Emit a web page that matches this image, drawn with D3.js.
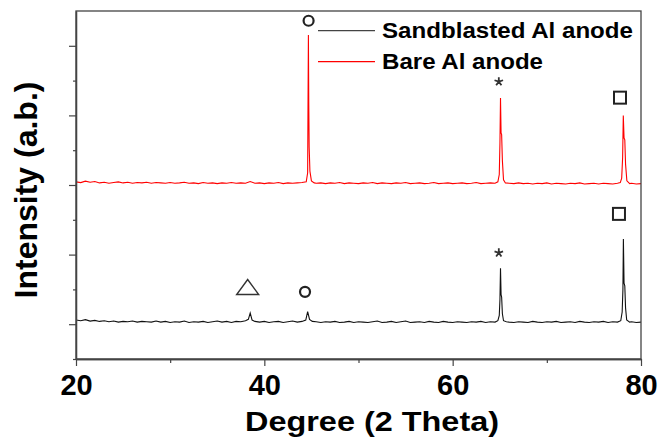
<!DOCTYPE html>
<html lang="en">
<head>
<meta charset="UTF-8">
<script src="https://d3js.org/d3.v7.min.js"></script>
<title>XRD</title>
<style>
  body { margin: 0; background: #fff; }
  text { font-family: "Liberation Sans", Arial, sans-serif; font-weight: bold; }
</style>
</head>
<body>
<svg id="chart" width="659" height="438"></svg>
<script>
// bare Al anode (red), [2theta, intensity]
const bare = [
  [20,5.09],[20.5,5.07],[21,5.11],[21.5,5.08],[22,5.10],[22.5,5.06],[23,5.08],[23.5,5.05],
  [24,5.07],[24.5,5.09],[25,5.06],[25.5,5.08],[26,5.05],[26.5,5.07],[27,5.06],[27.5,5.08],
  [28,5.05],[28.5,5.07],[29,5.06],[29.5,5.05],[30,5.07],[30.5,5.05],[31,5.06],[31.5,5.08],
  [32,5.05],[32.5,5.06],[33,5.04],[33.5,5.07],[34,5.05],[34.5,5.06],[35,5.04],[35.5,5.06],
  [36,5.05],[36.5,5.07],[37,5.05],[37.5,5.06],[38,5.05],[38.5,5.10],[39,5.05],[39.5,5.06],
  [40,5.04],[40.5,5.06],[41,5.05],[41.5,5.07],[42,5.04],[42.5,5.06],[43,5.05],[43.5,5.06],
  [44,5.07],[44.45,5.09],[44.6,5.35],[44.64,7.4],[44.68,9.31],[44.72,7.3],[44.76,6.1],
  [44.84,5.4],[45,5.12],[45.3,5.06],[45.5,5.05],[46,5.06],[46.5,5.04],[47,5.06],[47.5,5.05],
  [48,5.07],[48.5,5.04],[49,5.06],[49.5,5.05],[50,5.04],[50.5,5.06],[51,5.05],[51.5,5.07],
  [52,5.04],[52.5,5.06],[53,5.05],[53.5,5.04],[54,5.06],[54.5,5.05],[55,5.07],[55.5,5.04],
  [56,5.05],[56.5,5.06],[57,5.04],[57.5,5.05],[58,5.07],[58.5,5.04],[59,5.05],[59.5,5.06],
  [60,5.04],[60.5,5.05],[61,5.06],[61.5,5.04],[62,5.05],[62.5,5.07],[63,5.04],[63.5,5.05],
  [64,5.06],[64.5,5.05],[64.8,5.09],[64.95,5.3],[65.02,6.2],[65.08,7.5],[65.14,6.5],
  [65.2,6.45],[65.28,5.7],[65.4,5.15],[65.6,5.06],[66,5.05],[66.5,5.04],[67,5.06],[67.5,5.04],
  [68,5.05],[68.5,5.03],[69,5.05],[69.5,5.04],[70,5.06],[70.5,5.03],[71,5.05],[71.5,5.04],
  [72,5.03],[72.5,5.05],[73,5.04],[73.5,5.06],[74,5.03],[74.5,5.04],[75,5.05],[75.5,5.03],
  [76,5.05],[76.5,5.04],[77,5.03],[77.5,5.05],[77.8,5.07],[77.95,5.2],[78.05,5.8],
  [78.12,7.0],[78.2,6.35],[78.28,6.3],[78.36,5.6],[78.5,5.12],[78.8,5.04],[79,5.05],
  [79.5,5.03],[80,5.04]
];

// sandblasted Al anode (black), [2theta, intensity]
const sandblasted = [
  [20,1.12],[20.5,1.10],[21,1.13],[21.5,1.09],[22,1.11],[22.5,1.08],[23,1.10],[23.5,1.07],
  [24,1.09],[24.5,1.06],[25,1.08],[25.5,1.07],[26,1.09],[26.5,1.06],[27,1.08],[27.5,1.07],
  [28,1.06],[28.5,1.09],[29,1.06],[29.5,1.08],[30,1.05],[30.5,1.07],[31,1.06],[31.5,1.09],
  [32,1.05],[32.5,1.07],[33,1.06],[33.5,1.08],[34,1.05],[34.5,1.07],[35,1.09],[35.5,1.06],
  [36,1.08],[36.5,1.05],[37,1.08],[37.5,1.07],[38,1.10],[38.3,1.14],[38.5,1.32],[38.7,1.12],
  [39,1.08],[39.5,1.06],[40,1.08],[40.5,1.05],[41,1.07],[41.5,1.08],[42,1.05],[42.5,1.07],
  [43,1.09],[43.5,1.06],[44,1.08],[44.4,1.12],[44.6,1.36],[44.8,1.14],[45.1,1.08],[45.5,1.07],
  [46,1.05],[46.5,1.07],[47,1.06],[47.5,1.08],[48,1.05],[48.5,1.06],[49,1.08],[49.5,1.05],
  [50,1.07],[50.5,1.06],[51,1.05],[51.5,1.07],[52,1.09],[52.5,1.05],[53,1.06],[53.5,1.08],
  [54,1.05],[54.5,1.07],[55,1.09],[55.5,1.05],[56,1.06],[56.5,1.07],[57,1.05],[57.5,1.08],
  [58,1.06],[58.5,1.05],[59,1.08],[59.5,1.06],[60,1.05],[60.5,1.07],[61,1.06],[61.5,1.05],
  [62,1.07],[62.5,1.06],[63,1.08],[63.5,1.05],[64,1.07],[64.5,1.06],[64.8,1.10],[64.95,1.25],
  [65.02,1.7],[65.08,2.61],[65.14,1.85],[65.2,1.78],[65.28,1.3],[65.4,1.1],[65.7,1.07],
  [66,1.06],[66.5,1.05],[67,1.07],[67.5,1.06],[68,1.05],[68.5,1.08],[69,1.06],[69.5,1.05],
  [70,1.07],[70.5,1.06],[71,1.08],[71.5,1.05],[72,1.06],[72.5,1.07],[73,1.05],[73.5,1.08],
  [74,1.06],[74.5,1.05],[75,1.07],[75.5,1.06],[76,1.08],[76.5,1.05],[77,1.07],[77.5,1.06],
  [77.85,1.1],[78.0,1.35],[78.08,2.0],[78.13,3.45],[78.2,2.18],[78.28,2.1],[78.36,1.47],
  [78.48,1.12],[78.8,1.06],[79,1.07],[79.5,1.05],[80,1.06]
];

const xMajor = [20, 40, 60, 80];
const xMinor = [30, 50, 70];
const yMajor = [1, 3, 5, 7, 9];
const yMinor = [0, 2, 4, 6, 8];

const legendLabels = ["Sandblasted Al anode", "Bare Al anode"];
const legendColors = ["#444", "#ff0000"];

// phase markers above the peaks
const markers = [
  {shape: "circle",   theta: 44.7,  value: 9.72},
  {shape: "star",     theta: 64.9,  value: 7.97},
  {shape: "square",   theta: 77.77, value: 7.51},
  {shape: "triangle", theta: 38.23, value: 2.07},
  {shape: "circle",   theta: 44.32, value: 1.93},
  {shape: "star",     theta: 64.9,  value: 3.05},
  {shape: "square",   theta: 77.66, value: 4.17}
];

const svg = d3.select("#chart");
const margin = {top: 11, right: 18, bottom: 79, left: 76};
const W = 659, H = 438;

const x = d3.scaleLinear().domain([20, 80]).range([margin.left, W - margin.right]);
const y = d3.scaleLinear().domain([0, 10]).range([H - margin.bottom, margin.top]);

const line = d3.line().x(d => x(d[0])).y(d => y(d[1]));

svg.append("path").datum(sandblasted)
  .attr("d", line).attr("fill", "none").attr("stroke", "#111").attr("stroke-width", 1.1);
svg.append("path").datum(bare)
  .attr("d", line).attr("fill", "none").attr("stroke", "#ff0000").attr("stroke-width", 1.1);

// frame
svg.append("rect")
  .attr("x", x(20)).attr("y", y(10))
  .attr("width", x(80) - x(20)).attr("height", y(0) - y(10))
  .attr("fill", "none").attr("stroke", "#444").attr("stroke-width", 1.3);

// bottom axis
const xAx = svg.append("g").attr("transform", `translate(0,${y(0)})`)
  .call(d3.axisBottom(x).tickValues(xMajor).tickSize(7).tickSizeOuter(0).tickFormat(d3.format("d")));
svg.append("g").attr("transform", `translate(0,${y(0)})`)
  .call(d3.axisBottom(x).tickValues(xMinor).tickSize(4).tickSizeOuter(0).tickFormat(""));
xAx.selectAll("text")
  .attr("font-size", 29).attr("font-weight", "bold").attr("fill", "#000")
  .attr("y", 0).attr("dy", 36)
  .style("font-family", '"Liberation Sans", Arial, sans-serif');

// left axis
svg.append("g").attr("transform", `translate(${x(20)},0)`)
  .call(d3.axisLeft(y).tickValues(yMajor).tickSize(7).tickSizeOuter(0).tickFormat(""));
svg.append("g").attr("transform", `translate(${x(20)},0)`)
  .call(d3.axisLeft(y).tickValues(yMinor).tickSize(3).tickSizeOuter(0).tickFormat(""));

svg.selectAll(".domain").attr("stroke", "#444").attr("stroke-width", 1.3);
svg.selectAll(".tick line").attr("stroke", "#444").attr("stroke-width", 1.2);

// axis titles
svg.append("text")
  .attr("x", 245).attr("y", 431)
  .attr("font-size", 28.5).attr("textLength", 254).attr("lengthAdjust", "spacingAndGlyphs")
  .text("Degree (2 Theta)");
svg.append("text")
  .attr("transform", "translate(37,190) rotate(-90)")
  .attr("text-anchor", "middle").attr("font-size", 32)
  .text("Intensity (a.b.)");

// legend
const legend = svg.append("g");
legendLabels.forEach((lab, i) => {
  const ly = 30.7 + i * 31;
  legend.append("line")
    .attr("x1", 318).attr("x2", 375).attr("y1", ly).attr("y2", ly)
    .attr("stroke", legendColors[i]).attr("stroke-width", 1.3);
  legend.append("text")
    .attr("x", 382).attr("y", ly + 7.5)
    .attr("font-size", 22)
    .attr("textLength", i === 0 ? 251 : 161).attr("lengthAdjust", "spacingAndGlyphs")
    .text(lab);
});

// markers
const mk = svg.append("g").attr("fill", "none").attr("stroke", "#222");
markers.forEach(m => {
  const cx = x(m.theta), cy = y(m.value);
  if (m.shape === "circle") {
    mk.append("circle").attr("cx", cx).attr("cy", cy).attr("r", 5).attr("stroke-width", 2.2);
  } else if (m.shape === "square") {
    mk.append("rect").attr("x", cx - 6).attr("y", cy - 6).attr("width", 12).attr("height", 12)
      .attr("stroke-width", 2);
  } else if (m.shape === "triangle") {
    mk.append("path")
      .attr("d", `M${cx - 11},${cy + 7.5}L${cx + 11},${cy + 7.5}L${cx},${cy - 7.5}Z`)
      .attr("stroke", "#333").attr("stroke-width", 1.4);
  } else if (m.shape === "star") {
    const p = d3.path();
    for (let k = 0; k < 5; k++) {
      const a = -Math.PI / 2 + k * 2 * Math.PI / 5;
      p.moveTo(cx, cy);
      p.lineTo(cx + 4.5 * Math.cos(a), cy + 4.5 * Math.sin(a));
    }
    mk.append("path").attr("d", p.toString()).attr("stroke", "#333").attr("stroke-width", 1.8);
  }
});
</script>
</body>
</html>
